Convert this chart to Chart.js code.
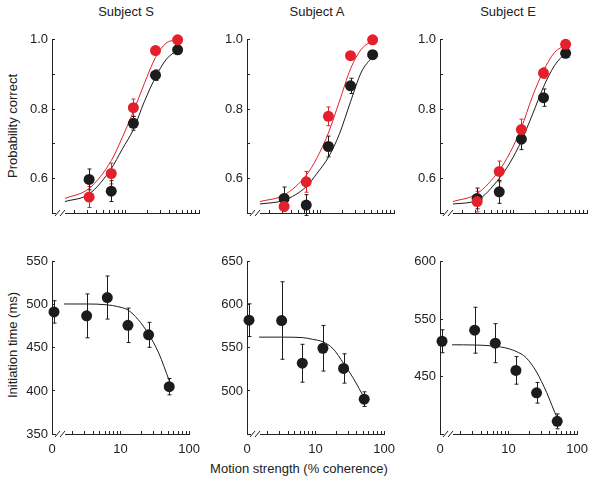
<!DOCTYPE html>
<html>
<head>
<meta charset="utf-8">
<script src="https://cdn.jsdelivr.net/npm/chart.js@4.4.0/dist/chart.umd.min.js"></script>
<style>
  body { margin: 0; background: #fff; }
  #fig { position: relative; width: 600px; height: 486px; font-family: 'Liberation Sans', Arial, sans-serif; font-size: 13px; color: #222; }
  #fig canvas { position: absolute; }
  .lbl { position: absolute; white-space: nowrap; transform: translate(-50%, -50%); }
  .rot { transform: translate(-50%, -50%) rotate(-90deg); }
</style>
</head>
<body>
<div id="fig">
  <div class="lbl" style="left:126px;top:11px">Subject S</div>
  <div class="lbl" style="left:317px;top:11px">Subject A</div>
  <div class="lbl" style="left:508px;top:11px">Subject E</div>
  <div class="lbl rot" style="left:12px;top:126px">Probability correct</div>
  <div class="lbl rot" style="left:12px;top:345px">Initiation time (ms)</div>
  <div class="lbl" style="left:299px;top:468px">Motion strength (% coherence)</div>

  <canvas id="pS" width="204" height="218" style="left:7px;top:25px"></canvas>
  <canvas id="pA" width="204" height="218" style="left:202px;top:25px"></canvas>
  <canvas id="pE" width="204" height="218" style="left:395px;top:25px"></canvas>
  <canvas id="rS" width="204" height="217" style="left:7px;top:247px"></canvas>
  <canvas id="rA" width="204" height="217" style="left:202px;top:247px"></canvas>
  <canvas id="rE" width="204" height="217" style="left:395px;top:247px"></canvas>
</div>

<script>
// --- data ---
const coherence = [3.2, 6.4, 12.8, 25.6, 51.2];
const rtCoherence = [0, 3.2, 6.4, 12.8, 25.6, 51.2];
const ZERO_AT = 1.07; // where 0% coherence sits, left of the axis break
const fitCoh = [1.5, 3.2, 6.4, 9, 12.8, 18, 25.6, 36, 51.2];
const rtFitCoh = [1.5, 3.2, 6.4, 9, 12.8, 18, 25.6, 36, 51.2, 56];

const xTicks = [1, 2, 3, 4, 5, 6, 7, 8, 9, 10, 20, 30, 40, 50, 60, 70, 80, 90, 100];
const xTickLabels = { 1: '0', 10: '10', 100: '100' };

const pcTicks = [0.6, 0.7, 0.8, 0.9, 1.0];
const pcTickLabels = ['0.6', '', '0.8', '', '1.0'];

// Subject S - probability correct
const pcS_black = [0.597, 0.563, 0.759, 0.898, 0.971];
const pcS_blackErr = [0.03, 0.03, 0.02, 0.015, 0.01];
const pcS_red = [0.546, 0.614, 0.804, 0.969, 1.0];
const pcS_redErr = [0.03, 0.03, 0.025, 0.01, 0];
const fitS_black = [0.533, 0.555, 0.628, 0.684, 0.741, 0.821, 0.892, 0.944, 0.971];
const fitS_red = [0.542, 0.571, 0.651, 0.717, 0.793, 0.873, 0.949, 0.991, 1.0];

// Subject A
const pcA_black = [0.542, 0.523, 0.692, 0.867, 0.957];
const pcA_blackErr = [0.033, 0.03, 0.03, 0.022, 0.012];
const pcA_red = [0.519, 0.59, 0.779, 0.954, 1.0];
const pcA_redErr = [0.015, 0.03, 0.027, 0.012, 0];
const fitA_black = [0.526, 0.537, 0.576, 0.615, 0.661, 0.727, 0.821, 0.907, 0.952];
const fitA_red = [0.533, 0.552, 0.609, 0.66, 0.731, 0.821, 0.916, 0.973, 0.998];

// Subject E
const pcE_black = [0.542, 0.561, 0.713, 0.833, 0.961];
const pcE_blackErr = [0.03, 0.033, 0.03, 0.025, 0.012];
const pcE_red = [0.533, 0.62, 0.741, 0.904, 0.987];
const pcE_redErr = [0.03, 0.03, 0.03, 0.015, 0.008];
const fitE_black = [0.526, 0.537, 0.6, 0.646, 0.708, 0.783, 0.864, 0.925, 0.963];
const fitE_red = [0.533, 0.556, 0.623, 0.675, 0.746, 0.835, 0.911, 0.963, 0.985];

// initiation times (ms)
const rtS = [491.8, 487.2, 508.5, 476.2, 465.2, 405];
const rtS_err = [13, 25.5, 25, 20, 14.5, 9.5];
const rtFitS = [501, 501, 500, 498, 494, 483, 466, 444, 412, 404];
const rtS_ticks = [350, 400, 450, 500, 550];
const rtS_tickLabels = ['350', '400', '450', '500', '550'];

const rtA = [582.2, 581.8, 532.2, 549.6, 526.1, 490.5];
const rtA_err = [19, 45, 22, 26.5, 17, 8.5];
const rtFitA = [562.5, 562.5, 562, 560, 557, 549, 532, 514, 492, 487];
const rtA_ticks = [500, 550, 600, 650];
const rtA_tickLabels = ['500', '550', '600', '650'];

const rtE = [530.8, 540.4, 529.1, 505.4, 485.9, 461];
const rtE_err = [10, 20, 17, 12, 9, 6.5];
const rtFitE = [527.7, 527.5, 526.5, 525, 522, 516.5, 504, 486, 464, 460];
const rtE_ticks = [500, 550, 600];
const rtE_tickLabels = ['450', '550', '600'];  // as printed in the figure

const RED = '#e3202b';
const BLACK = '#1c1c1c';
const INK = '#222';
const FONT = { family: "'Liberation Sans', Arial, sans-serif", size: 13 };

// --- plugins ---
const errorBars = {
  id: 'errorBars',
  beforeDatasetsDraw(chart) {
    const ctx = chart.ctx, xs = chart.scales.x, ys = chart.scales.y;
    chart.data.datasets.forEach(ds => {
      if (!ds.errors) return;
      ctx.save();
      ctx.strokeStyle = ds.backgroundColor;
      ctx.lineWidth = 1;
      ds.data.forEach((p, i) => {
        const e = ds.errors[i];
        if (!e) return;
        const x = Math.round(xs.getPixelForValue(p.x)) + 0.5;
        const y1 = ys.getPixelForValue(p.y + e);
        const y2 = ys.getPixelForValue(p.y - e);
        ctx.beginPath();
        ctx.moveTo(x, y1); ctx.lineTo(x, y2);
        ctx.moveTo(x - 2, y1); ctx.lineTo(x + 2, y1);
        ctx.moveTo(x - 2, y2); ctx.lineTo(x + 2, y2);
        ctx.stroke();
      });
      ctx.restore();
    });
  }
};

// the "//" break between 0 and the log part of the x axis
const axisBreak = {
  id: 'axisBreak',
  afterDraw(chart) {
    const a = chart.chartArea, ctx = chart.ctx;
    ctx.save();
    ctx.fillStyle = '#fff';
    ctx.fillRect(a.left + 4, a.bottom - 2, 9, 4);
    ctx.strokeStyle = INK;
    ctx.lineWidth = 1;
    ctx.beginPath();
    ctx.moveTo(a.left + 3, a.bottom + 3); ctx.lineTo(a.left + 8, a.bottom - 3);
    ctx.moveTo(a.left + 8, a.bottom + 3); ctx.lineTo(a.left + 13, a.bottom - 3);
    ctx.stroke();
    ctx.restore();
  }
};

function fitLine(xs, ys, color, order) {
  return {
    data: xs.map((x, i) => ({ x: x, y: ys[i] })),
    showLine: true, borderColor: color, borderWidth: 1,
    pointRadius: 0, cubicInterpolationMode: 'monotone', clip: false, order: order
  };
}

function dots(xs, ys, errs, color, order) {
  return {
    data: xs.map((x, i) => ({ x: x === 0 ? ZERO_AT : x, y: ys[i] })),
    errors: errs,
    backgroundColor: color, borderColor: color, borderWidth: 0,
    pointRadius: 5.5, clip: false, order: order
  };
}

function panel(id, yMin, yMax, yTicks, yLabels, showX, datasets) {
  return new Chart(document.getElementById(id), {
    type: 'scatter',
    data: { datasets: datasets },
    options: {
      responsive: false,
      animation: false,
      devicePixelRatio: 1,
      layout: { padding: { top: 12, right: 12, left: 0, bottom: 0 } },
      plugins: { legend: { display: false }, tooltip: { enabled: false } },
      scales: {
        x: {
          type: 'logarithmic', min: 1, max: 100,
          afterBuildTicks: s => { s.ticks = xTicks.map(v => ({ value: v })); },
          afterFit: s => { s.height = 30; },
          ticks: {
            autoSkip: false, maxRotation: 0, padding: 11, color: INK, font: FONT,
            callback: v => showX ? (xTickLabels[v] || '') : ''
          },
          grid: { drawOnChartArea: false, tickLength: -3, color: INK, lineWidth: 1 },
          border: { color: INK, width: 1 }
        },
        y: {
          min: yMin, max: yMax,
          afterBuildTicks: s => { s.ticks = yTicks.map(v => ({ value: v })); },
          afterFit: s => { s.width = 45; },
          ticks: {
            padding: 7, color: INK, font: FONT,
            callback: (v, i) => yLabels[i]
          },
          grid: { drawOnChartArea: false, tickLength: -3, color: INK, lineWidth: 1 },
          border: { color: INK, width: 1 }
        }
      }
    },
    plugins: [errorBars, axisBreak]
  });
}

panel('pS', 0.5, 1.0, pcTicks, pcTickLabels, false, [
  dots(coherence, pcS_red, pcS_redErr, RED, 0),
  dots(coherence, pcS_black, pcS_blackErr, BLACK, 1),
  fitLine(fitCoh, fitS_red, RED, 2),
  fitLine(fitCoh, fitS_black, BLACK, 3)
]);
panel('pA', 0.5, 1.0, pcTicks, pcTickLabels, false, [
  dots(coherence, pcA_red, pcA_redErr, RED, 0),
  dots(coherence, pcA_black, pcA_blackErr, BLACK, 1),
  fitLine(fitCoh, fitA_red, RED, 2),
  fitLine(fitCoh, fitA_black, BLACK, 3)
]);
panel('pE', 0.5, 1.0, pcTicks, pcTickLabels, false, [
  dots(coherence, pcE_red, pcE_redErr, RED, 0),
  dots(coherence, pcE_black, pcE_blackErr, BLACK, 1),
  fitLine(fitCoh, fitE_red, RED, 2),
  fitLine(fitCoh, fitE_black, BLACK, 3)
]);
panel('rS', 350, 550, rtS_ticks, rtS_tickLabels, true, [
  dots(rtCoherence, rtS, rtS_err, BLACK, 0),
  fitLine(rtFitCoh, rtFitS, BLACK, 1)
]);
panel('rA', 450, 650, rtA_ticks, rtA_tickLabels, true, [
  dots(rtCoherence, rtA, rtA_err, BLACK, 0),
  fitLine(rtFitCoh, rtFitA, BLACK, 1)
]);
panel('rE', 450, 600, rtE_ticks, rtE_tickLabels, true, [
  dots(rtCoherence, rtE, rtE_err, BLACK, 0),
  fitLine(rtFitCoh, rtFitE, BLACK, 1)
]);
</script>
</body>
</html>
